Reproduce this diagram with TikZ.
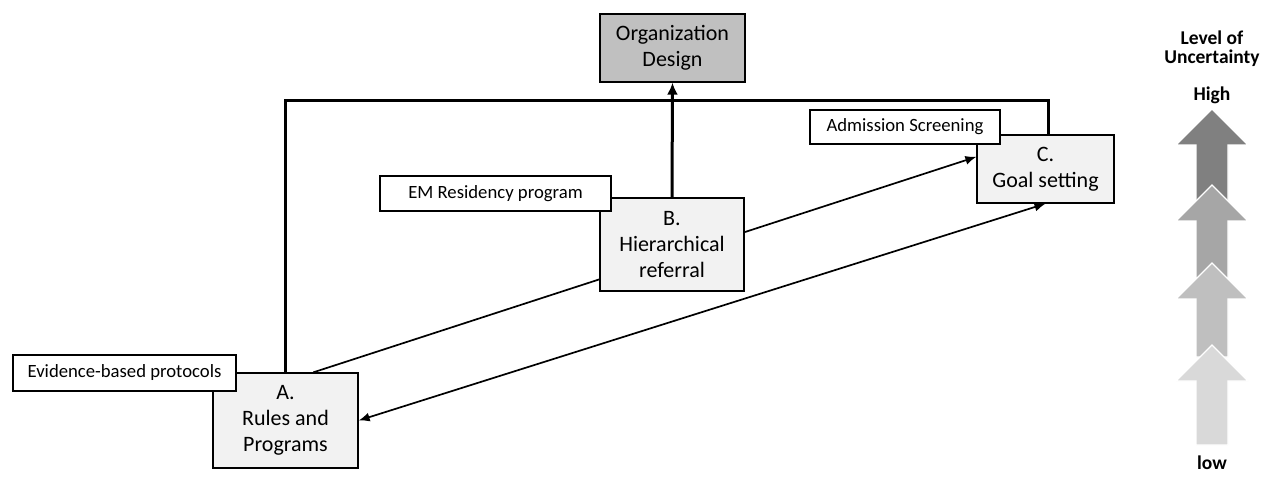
\documentclass[tikz,border=0pt]{standalone}
\usepackage{fontspec}
\setmainfont{Carlito}
\usetikzlibrary{arrows.meta,calc}
\definecolor{orgfill}{HTML}{C0C0C0}
\definecolor{boxfill}{HTML}{F2F2F2}
\definecolor{lvA}{HTML}{808080}
\definecolor{lvB}{HTML}{A6A6A6}
\definecolor{lvC}{HTML}{BFBFBF}
\definecolor{lvD}{HTML}{D9D9D9}
\tikzset{
  mainbox/.style={draw=black, line width=1.3pt, fill=boxfill, inner sep=0pt,
    align=center, font=\fontsize{22}{26}\selectfont},
  labelbox/.style={draw=black, line width=1.3pt, fill=white, inner sep=0pt,
    align=center, font=\fontsize{18.7}{20}\selectfont},
  heavy/.style={line width=3pt, line join=miter},
  thinarrow/.style={line width=1.7pt, -{Latex[length=11pt,width=9pt]}},
  levtext/.style={font=\bfseries\fontsize{19.5}{20}\selectfont, inner sep=0pt},
  levarrow/.style={draw=white, line width=1.2pt, line join=miter},
}
\begin{document}
\begin{tikzpicture}[x=1pt,y=-1pt]
\path[use as bounding box] (0,0) rectangle (1261,486);

% nodes
\node[mainbox, fill=orgfill, minimum width=145pt, minimum height=68pt] (org) at (672.5,48) {Organization\\Design};
\node[mainbox, minimum width=145pt, minimum height=95pt] (ruleA) at (285.5,420.5) {A.\\Rules and\\Programs};
\node[mainbox, minimum width=144pt, minimum height=93pt] (hierB) at (672,244.5) {B.\\Hierarchical\\referral};
\node[mainbox, minimum width=137pt, minimum height=68pt] (goalC) at (1045.5,169) {C.\\Goal setting};

% heavy feedback line
\coordinate (tl) at (285,101);
\coordinate (tr) at (1048,101);
\draw[heavy] (ruleA.north -| tl) -- (tl) -- (tr) -- (goalC.north -| tr);
\draw[heavy, -{Latex[length=12pt,width=11pt]}] (hierB.north) -- (org.south);

% thin arrows
\draw[thinarrow] (ruleA.60) -- (goalC.170);
\draw[thinarrow, {Latex[length=11pt,width=9pt]}-{Latex[length=11pt,width=9pt]}] (ruleA.east) -- (goalC.south);

% redraw B on top of the arrow passing behind it
\node[mainbox, minimum width=144pt, minimum height=93pt] at (672,244.5) {B.\\Hierarchical\\referral};

% label boxes
\node[labelbox, minimum width=223pt, minimum height=36pt] (labA) at (124.5,373) {Evidence-based protocols};
\node[labelbox, minimum width=231pt, minimum height=35pt] (labB) at (495.5,193.5) {EM Residency program};
\node[labelbox, minimum width=190pt, minimum height=34pt] (labC) at (905,127) {Admission Screening};

% level of uncertainty
\node[levtext] (lvtitle1) at (1212,38) {Level of};
\node[levtext] (lvtitle2) at (1212,58) {Uncertainty};
\node[levtext] (lvhigh) at (1212,95) {High};
\node[levtext] (lvlow) at (1212,463) {low};

\foreach \t/\b/\c in {109/205/lvA, 185/278/lvB, 263/357/lvC, 345/445/lvD}{
  \path[levarrow, fill=\c] (1212,\t) -- (1248,\t+36) -- (1228,\t+36) -- (1228,\b)
     -- (1196,\b) -- (1196,\t+36) -- (1176,\t+36) -- cycle;
}
\end{tikzpicture}
\end{document}
